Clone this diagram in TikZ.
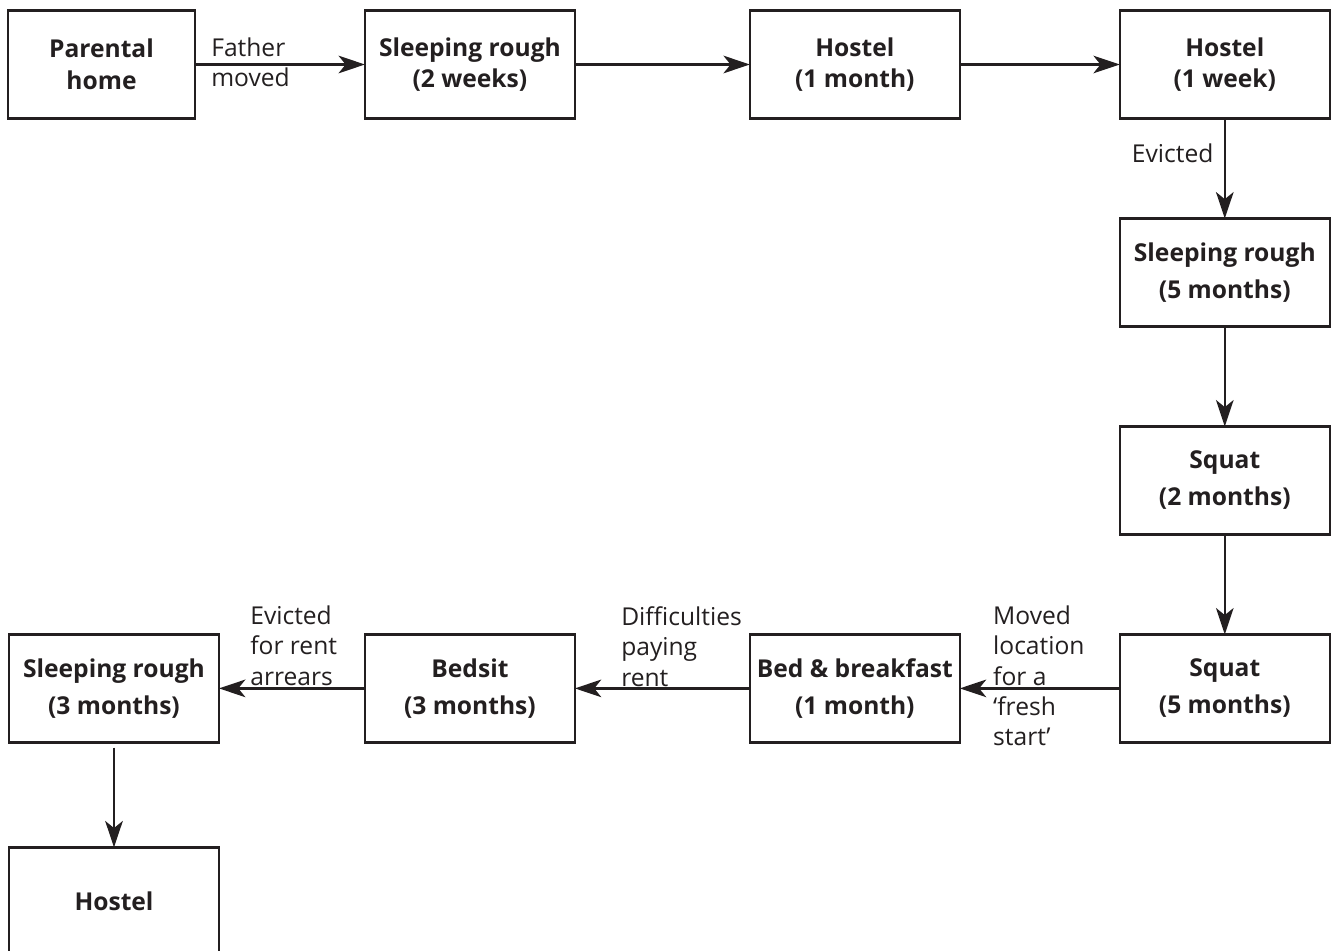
\documentclass[tikz,border=0pt]{standalone}
\usepackage{fontspec}
\setmainfont{Open Sans}
\usetikzlibrary{positioning,arrows.meta,calc}

\definecolor{ink}{RGB}{35,31,32}

\tikzset{
    stage/.style={draw=ink, line width=1.4pt, text=ink, align=center,
        font=\bfseries\fontsize{14}{18}\selectfont,
        minimum width=4.2cm, minimum height=2.16cm, inner sep=0pt, outer sep=0pt},
    spaced/.style={font=\bfseries\fontsize{14}{21}\selectfont},
    move/.style={draw=ink, line width=1.4pt, -{Stealth[length=15pt,width=10pt,inset=4pt]}},
    reason/.style={text=ink, align=left, inner sep=0pt,
        font=\fontsize{14}{17.3}\selectfont},
}

\begin{document}
\begin{tikzpicture}[x=0.02cm, y=-0.02cm]
    \useasboundingbox (0,0) rectangle (1334,950);

    \node[stage, minimum width=3.74cm] (home) at (101.5,64.5) {Parental\\home};
    \node[stage, right=3.4cm of home] (rough1) {Sleeping rough\\(2 weeks)};
    \node[stage, right=3.5cm of rough1] (hostel1) {Hostel\\(1 month)};
    \node[stage, right=3.2cm of hostel1] (hostel2) {Hostel\\(1 week)};

    \node[stage, spaced, below=2cm of hostel2] (rough2) {Sleeping rough\\(5 months)};
    \node[stage, spaced, below=2cm of rough2] (squat1) {Squat\\(2 months)};
    \node[stage, spaced, below=2cm of squat1] (squat2) {Squat\\(5 months)};

    \node[stage, spaced, left=3.2cm of squat2] (bnb) {Bed \& breakfast\\(1 month)};
    \node[stage, spaced, left=3.5cm of bnb] (bedsit) {Bedsit\\(3 months)};
    \node[stage, spaced, left=2.92cm of bedsit] (rough3) {Sleeping rough\\(3 months)};
    \node[stage, below=2.1cm of rough3] (hostel3) {Hostel};

    \node[reason, anchor=west] (lfather) at ($(home.east)+(0.32cm,0.05cm)$) {Father\\moved};
    \node[reason, anchor=east] (levicted) at ($(hostel2.south)+(-0.22cm,-0.7cm)$) {Evicted};
    \node[reason, anchor=west] (lfresh) at ($(bnb.east)+(0.66cm,0.25cm)$) {Moved\\location\\for a\\`fresh\\start'};
    \node[reason, anchor=west] (lrent) at ($(bedsit.east)+(0.92cm,0.84cm)$) {Difficulties\\paying\\rent};
    \node[reason, anchor=west] (larrears) at ($(rough3.east)+(0.62cm,0.86cm)$) {Evicted\\for rent\\arrears};

    \draw[move] (home) -- (rough1);
    \draw[move] (rough1) -- (hostel1);
    \draw[move] (hostel1) -- (hostel2);
    \draw[move] (hostel2) -- (rough2);
    \draw[move] (rough2) -- (squat1);
    \draw[move] (squat1) -- (squat2);
    \draw[move] (squat2) -- (bnb);
    \draw[move] (bnb) -- (bedsit);
    \draw[move] (bedsit) -- (rough3);
    \draw[move, shorten <=3pt] (rough3) -- (hostel3);
\end{tikzpicture}
\end{document}
